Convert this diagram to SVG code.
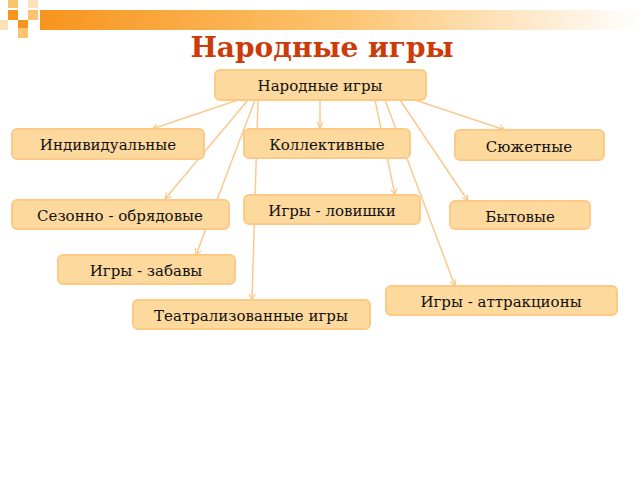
<svg xmlns="http://www.w3.org/2000/svg" width="640" height="480" viewBox="0 0 640 480">
<defs>
<linearGradient id="bar" x1="0" x2="1"><stop offset="0" stop-color="#f7941d"/><stop offset="0.5" stop-color="#fcc36e"/><stop offset="1" stop-color="#fff"/></linearGradient>
<marker id="a" markerWidth="8" markerHeight="8" refX="7" refY="4" orient="auto" markerUnits="userSpaceOnUse"><path d="M1,1 L7,4 L1,7" fill="none" stroke="#fbc98f" stroke-width="1.2"/></marker>
<style>
.n rect{fill:#fdd99e;stroke:#fcca85;stroke-width:2}
.n text{font-family:"DejaVu Serif",serif;font-size:15px;fill:#111;text-anchor:middle}
#c line{stroke:#fbc98f;stroke-width:1.5;marker-end:url(#a)}
</style>
</defs>
<rect width="640" height="480" fill="#fff"/>
<rect x="40" y="10" width="600" height="20" fill="url(#bar)"/>
<rect x="8" y="0" width="10" height="8" fill="#fcc36e"/>
<rect x="28" y="0" width="10" height="8" fill="#fde2b8"/>
<rect x="8" y="10" width="10" height="10" fill="#f7941d"/>
<rect x="28" y="10" width="10" height="10" fill="#fcc36e"/>
<rect x="0" y="20" width="8" height="10" fill="#fde2b8"/>
<rect x="18" y="20" width="10" height="8" fill="#f7941d"/>
<rect x="18" y="28" width="10" height="10" fill="#fcc36e"/>
<text x="322" y="57" font-family="'DejaVu Serif',serif" font-weight="bold" font-size="28" fill="#cc3b0a" text-anchor="middle">Народные игры</text>
<g id="c">
<line x1="238" y1="100" x2="152" y2="129"/>
<line x1="320" y1="100" x2="320" y2="128"/>
<line x1="415" y1="100" x2="505" y2="130"/>
<line x1="248" y1="100" x2="165" y2="199"/>
<line x1="375" y1="100" x2="395" y2="195"/>
<line x1="400" y1="100" x2="468" y2="201"/>
<line x1="255" y1="100" x2="196" y2="255"/>
<line x1="385" y1="100" x2="455" y2="286"/>
<line x1="258" y1="100" x2="252" y2="300"/>
</g>
<g id="root" class="n"><rect x="215" y="70" width="211" height="30" rx="5"/><text x="320" y="91">Народные игры</text></g>
<g id="ind" class="n"><rect x="12" y="129" width="192" height="30" rx="5"/><text x="108" y="150">Индивидуальные</text></g>
<g id="kol" class="n"><rect x="244" y="129" width="166" height="29" rx="5"/><text x="327" y="150">Коллективные</text></g>
<g id="syu" class="n"><rect x="455" y="130" width="149" height="30" rx="5"/><text x="529" y="152">Сюжетные</text></g>
<g id="sez" class="n"><rect x="12" y="200" width="217" height="29" rx="5"/><text x="120" y="221">Сезонно - обрядовые</text></g>
<g id="lov" class="n"><rect x="244" y="195" width="176" height="29" rx="5"/><text x="332" y="216">Игры - ловишки</text></g>
<g id="byt" class="n"><rect x="450" y="201" width="140" height="28" rx="5"/><text x="520" y="222">Бытовые</text></g>
<g id="zab" class="n"><rect x="58" y="255" width="177" height="29" rx="5"/><text x="146" y="276">Игры - забавы</text></g>
<g id="att" class="n"><rect x="386" y="286" width="231" height="29" rx="5"/><text x="501" y="307">Игры - аттракционы</text></g>
<g id="tea" class="n"><rect x="133" y="300" width="237" height="29" rx="5"/><text x="251" y="321">Театрализованные игры</text></g>
</svg>
